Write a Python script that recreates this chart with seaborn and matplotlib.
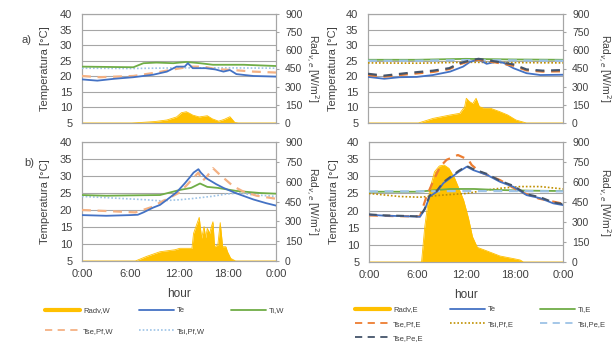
import matplotlib
matplotlib.use("Agg")
import matplotlib.pyplot as plt
from matplotlib.lines import Line2D
import seaborn as sns

sns.set_theme(style="white")
plt.rcParams['font.family'] = ['Liberation Sans', 'DejaVu Sans']

# ---------------- data ----------------
hour_ticks = [0, 6, 12, 18, 24]
hour_labels = ["0:00", "6:00", "12:00", "18:00", "0:00"]
temp_ticks = [5, 10, 15, 20, 25, 30, 35, 40]
rad_ticks = [0, 150, 300, 450, 600, 750, 900]

# a) West
aW_te_h = [0, 1.9, 4, 6.35, 8.8, 10.5, 11.7, 12.7, 13.1, 13.7, 15.3, 16.5, 17.5, 18.3, 19.1, 21.2, 24]
aW_te_v = [19.0, 18.6, 19.2, 19.7, 20.5, 21.5, 23.1, 23.1, 24.2, 22.6, 22.6, 22.2, 21.5, 22.0, 20.7, 20.1, 19.9]
aW_tse_pf_h = [0, 2.2, 6.35, 9.2, 11.3, 13.4, 15, 16.6, 18.7, 21.2, 24]
aW_tse_pf_v = [20.1, 19.7, 20.1, 21.2, 22.2, 23.1, 23.1, 22.3, 22.0, 21.5, 21.2]
aW_ti_h = [0, 6.35, 7.6, 9.2, 11.3, 12.9, 14.6, 16.2, 20, 24]
aW_ti_v = [23.1, 22.9, 24.2, 24.4, 24.2, 24.6, 24.2, 23.7, 23.7, 23.3]
aW_tsi_pf_h = [0, 6, 12, 18, 24]
aW_tsi_pf_v = [22.6, 22.5, 22.7, 22.7, 22.6]
aW_rad_h = [0, 6.15, 7.4, 9, 10.5, 11.7, 12.3, 12.9, 13.3, 13.7, 14.5, 15.5, 16.1, 16.9, 17.6, 18.3, 18.9, 19.35, 24]
aW_rad_v = [0, 0, 5, 12, 25, 50, 85, 93, 80, 65, 50, 60, 35, 15, 30, 52, 5, 0, 0]

# a) East
aE_te_h = [0, 2, 3.9, 6, 8, 10.1, 11.7, 12.6, 13.6, 14.6, 15.8, 16.7, 17.9, 19.5, 21.2, 24]
aE_te_v = [19.8, 19.2, 19.7, 19.8, 20.4, 21.5, 23.1, 24.7, 25.4, 24.0, 24.7, 24.3, 22.6, 21.0, 20.4, 20.5]
aE_tse_h = [0, 2, 4.7, 8, 10, 11.3, 12.6, 13.6, 15.8, 17.9, 19.5, 21.5, 24]
aE_tse_pe_v = [20.8, 20.2, 21.0, 21.8, 22.6, 24.2, 25.1, 25.6, 24.7, 23.8, 22.2, 21.8, 22.0]
aE_tse_pf_v = [20.4, 19.9, 20.6, 21.4, 22.3, 23.9, 24.9, 25.3, 24.4, 23.4, 21.9, 21.5, 21.6]
aE_flat_h = [0, 6, 12, 18, 24]
aE_ti_v = [25.3, 25.3, 25.6, 25.4, 25.3]
aE_tsi_pe_v = [25.0, 25.0, 25.2, 25.1, 25.0]
aE_tsi_pf_v = [24.3, 24.2, 24.5, 24.4, 24.3]
aE_rad_h = [0, 6.2, 8.0, 10.1, 11.3, 11.9, 12.1, 12.5, 12.9, 13.3, 13.7, 14.3, 15.1, 16.2, 17.2, 18.2, 19.5, 24]
aE_rad_v = [0, 0, 38, 66, 80, 135, 204, 176, 160, 204, 135, 121, 121, 94, 66, 25, 0, 0]

# b) West
bW_te_h = [0, 3, 6, 6.9, 7.6, 8.8, 9.65, 10.5, 11.7, 12.7, 13.3, 13.8, 14.4, 14.7, 15.4, 16.6, 17.5, 19.1, 21.2, 22.8, 24]
bW_te_v = [18.5, 18.3, 18.5, 18.6, 19.3, 20.7, 21.5, 23.0, 25.2, 27.8, 29.5, 31.0, 32.0, 31.0, 29.3, 27.6, 26.5, 24.9, 23.1, 22.0, 21.3]
bW_tse_pf_h = [0, 3, 6.6, 8.8, 9.65, 11.3, 12.1, 13, 13.8, 14.4, 14.9, 15.5, 16.2, 17, 18.7, 19.9, 21.6, 24]
bW_tse_pf_v = [20.0, 19.7, 19.3, 21.0, 22.2, 24.2, 25.2, 27.4, 29.5, 31.0, 28.5, 30.0, 32.3, 30.5, 27.0, 25.5, 24.2, 23.3]
bW_ti_h = [0, 3, 6, 9.65, 12.1, 13.5, 14.6, 15.5, 16.8, 19.1, 22, 24]
bW_ti_v = [24.4, 24.2, 24.3, 24.4, 25.9, 26.5, 27.8, 26.8, 26.5, 25.6, 25.0, 24.8]
bW_tsi_pf_h = [0, 4, 8, 9.65, 12, 13.8, 16, 17.9, 19.5, 21, 24]
bW_tsi_pf_v = [24.0, 23.5, 23.0, 22.7, 23.0, 23.4, 24.0, 24.7, 25.0, 24.5, 24.0]
bW_rad_h = [0, 6.6, 8, 9.65, 11.5, 12.1, 13.6, 13.8, 14.5, 14.8, 15.1, 15.3, 15.5, 15.8, 16.0, 16.2, 16.4, 16.8, 17.1,
            17.4, 17.8, 18.0, 18.4, 19.0, 24]
bW_rad_v = [0, 0, 35, 70, 85, 96, 96, 209, 330, 172, 260, 175, 247, 209, 260, 297, 108, 120, 290,
            108, 108, 70, 20, 0, 0]

# b) East
bE_te_h = [0, 2, 3.8, 6.3, 6.9, 7.5, 8.4, 9.2, 10, 11.1, 12.1, 12.9, 14.6, 16.2, 17.9, 19.5, 21.2, 22.8, 24]
bE_te_v = [18.8, 18.5, 18.4, 18.2, 20.3, 24.1, 25.5, 28.0, 29.4, 31.3, 32.8, 31.8, 30.4, 28.4, 26.9, 24.5, 23.6, 22.1, 21.6]
bE_tse_pe_v = [18.9, 18.6, 18.5, 18.3, 20.6, 24.4, 25.8, 28.3, 29.7, 31.6, 33.0, 32.1, 30.7, 28.7, 27.2, 24.8, 23.9, 22.4, 21.9]
bE_tse_pf_h = [0, 3, 6.3, 7.1, 8, 8.8, 9.6, 11, 12.3, 12.7, 13.7, 16.2, 18.7, 21, 24]
bE_tse_pf_v = [18.6, 18.4, 18.3, 24.0, 28.9, 32.8, 34.8, 36.2, 34.8, 33.3, 31.3, 28.9, 25.5, 23.5, 22.0]
bE_ti_h = [0, 6, 8, 10, 13, 16, 20, 24]
bE_ti_v = [25.5, 25.5, 25.9, 26.3, 26.3, 26.0, 25.8, 25.7]
bE_tsi_pe_h = [0, 6, 12, 18, 24]
bE_tsi_pe_v = [25.6, 25.6, 25.7, 25.7, 25.6]
bE_tsi_pf_h = [0, 3.8, 6.3, 9, 12.1, 14, 16.2, 18.7, 21.2, 24]
bE_tsi_pf_v = [25.0, 24.1, 23.9, 24.5, 25.0, 25.8, 26.5, 27.0, 27.0, 26.3]
bE_rad_h = [0, 6.5, 6.9, 7.5, 8.1, 8.7, 9.3, 9.9, 10.6, 11.2, 11.7, 12.3, 12.8, 13.4, 14.5, 16.2, 17.9, 18.7, 19.1, 24]
bE_rad_v = [0, 0, 265, 540, 677, 720, 727, 702, 628, 540, 465, 330, 190, 110, 85, 45, 25, 15, 0, 0]

# ---------------- styles ----------------
C_RAD = '#FFC000'
C_TE = '#4472C4'
C_TI = '#70AD47'
C_TSE_PF_W = '#F4B183'
C_TSE_PF_E = '#ED7D31'
C_TSI_PF_W = '#9DC3E6'
C_TSI_PF_E = '#BF9000'
C_TSI_PE_E = '#9DC3E6'
C_TSE_PE_E = '#44546A'
GRID = '#A6A6A6'
TXT = '#404040'

DASH = (0, (4, 3))
DOT = (0, (1, 1.2))

W, H = 613, 343
fig = plt.figure(figsize=(W / 100, H / 100), dpi=100)
fig.patch.set_facecolor('white')


def rect(l, r, t, b):
    return [l / W, 1 - b / H, (r - l) / W, (b - t) / H]


def panel(rc, lines, rad_h, rad_v, show_x, ylab_x, rlab_x, rad_label):
    ax = fig.add_axes(rc)
    ax.set_xlim(0, 24)
    ax.set_ylim(5, 40)
    ax.set_yticks(temp_ticks)
    ax.yaxis.grid(True, color=GRID, lw=0.8)
    ax.xaxis.grid(False)
    ax.set_axisbelow(True)
    ax.set_xticks(hour_ticks)
    ax.set_xticklabels(hour_labels if show_x else [""] * 5)
    ax.tick_params(axis='x', length=0, pad=6, labelsize=8, labelcolor=TXT)
    ax.tick_params(axis='y', length=0, pad=7, labelsize=8, labelcolor=TXT)
    for s in ax.spines.values():
        s.set_color(GRID)
        s.set_linewidth(0.8)
    ax.set_ylabel("Temperatura [°C]", fontsize=8, color=TXT)
    ax.yaxis.set_label_coords(ylab_x, 0.5)

    axr = ax.twinx()
    axr.set_ylim(0, 900)
    axr.set_yticks(rad_ticks)
    axr.tick_params(axis='y', length=2.5, pad=4, labelsize=7.5, labelcolor=TXT, color=GRID, width=0.8)
    for s in axr.spines.values():
        s.set_color(GRID)
        s.set_linewidth(0.8)
    sns.lineplot(x=rad_h, y=rad_v, ax=axr, color=C_RAD, lw=0.6, errorbar=None)
    axr.fill_between(rad_h, rad_v, 0, color=C_RAD, lw=0)
    axr.set_ylabel(rad_label, fontsize=7.5, color=TXT, rotation=270, va='center')
    axr.yaxis.set_label_coords(rlab_x, 0.5)
    axr.set_xlabel("")

    axl = fig.add_axes(rc, sharex=ax, sharey=ax)
    axl.set_axis_off()
    for (hh, vv, col, ls, lw) in lines:
        sns.lineplot(x=hh, y=vv, ax=axl, color=col, linestyle=ls, lw=lw, errorbar=None)
    ax.set_xlim(0, 24)
    ax.set_ylim(5, 40)
    return ax


RAD_LAB = "Rad$_{v,e}$ [W/m$^2$]"

# a) West
panel(rect(82, 276, 14, 123),
      [(aW_tsi_pf_h, aW_tsi_pf_v, C_TSI_PF_W, DOT, 1.2),
       (aW_ti_h, aW_ti_v, C_TI, '-', 1.3),
       (aW_tse_pf_h, aW_tse_pf_v, C_TSE_PF_W, DASH, 1.6),
       (aW_te_h, aW_te_v, C_TE, '-', 1.3)],
      aW_rad_h, aW_rad_v, False, -0.165, 1.19, RAD_LAB)

# a) East
panel(rect(368, 563, 14, 123),
      [(aE_flat_h, aE_tsi_pf_v, C_TSI_PF_E, DOT, 1.2),
       (aE_flat_h, aE_ti_v, C_TI, '-', 1.3),
       (aE_flat_h, aE_tsi_pe_v, C_TSI_PE_E, DASH, 1.6),
       (aE_te_h, aE_te_v, C_TE, '-', 1.3),
       (aE_tse_h, aE_tse_pf_v, C_TSE_PF_E, DASH, 1.6),
       (aE_tse_h, aE_tse_pe_v, C_TSE_PE_E, DASH, 1.6)],
      aE_rad_h, aE_rad_v, False, -0.155, 1.215, RAD_LAB)

# b) West
axbW = panel(rect(82, 276, 142, 261),
             [(bW_tsi_pf_h, bW_tsi_pf_v, C_TSI_PF_W, DOT, 1.2),
              (bW_ti_h, bW_ti_v, C_TI, '-', 1.3),
              (bW_tse_pf_h, bW_tse_pf_v, C_TSE_PF_W, DASH, 1.6),
              (bW_te_h, bW_te_v, C_TE, '-', 1.3)],
             bW_rad_h, bW_rad_v, True, -0.165, 1.19, RAD_LAB)
axbW.set_xlabel("hour", fontsize=8.5, color=TXT, labelpad=6)

# b) East
axbE = panel(rect(369, 563, 142, 262),
             [(bE_tsi_pf_h, bE_tsi_pf_v, C_TSI_PF_E, DOT, 1.2),
              (bE_ti_h, bE_ti_v, C_TI, '-', 1.3),
              (bE_tsi_pe_h, bE_tsi_pe_v, C_TSI_PE_E, DASH, 1.6),
              (bE_tse_pf_h, bE_tse_pf_v, C_TSE_PF_E, DASH, 1.6),
              (bE_te_h, bE_te_v, C_TE, '-', 1.3),
              (bE_te_h, bE_tse_pe_v, C_TSE_PE_E, DASH, 1.4)],
             bE_rad_h, bE_rad_v, True, -0.155, 1.215, RAD_LAB)
axbE.set_xlabel("hour", fontsize=8.5, color=TXT, labelpad=6)

fig.text(22 / W, 1 - 40 / H, "a)", fontsize=8, color=TXT, va='center')
fig.text(24 / W, 1 - 163 / H, "b)", fontsize=8, color=TXT, va='center')

# legends
def h(col, ls, lw):
    return Line2D([], [], color=col, linestyle=ls, lw=lw)

lw_handles = [h(C_RAD, '-', 3), h(C_TSE_PF_W, DASH, 1.3), h(C_TE, '-', 1.3), h(C_TSI_PF_W, DOT, 1.2), h(C_TI, '-', 1.3)]
lw_labels = ["Radv,W", "Tse,Pf,W", "Te", "Tsi,Pf,W", "Ti,W"]
fig.legend(lw_handles, lw_labels, loc='upper left', bbox_to_anchor=(45 / W, 1 - 307 / H), ncol=3,
           frameon=False, fontsize=5.5, handlelength=4.6, handletextpad=0.4, columnspacing=3.3,
           labelspacing=1.7, borderpad=0, borderaxespad=0, labelcolor=TXT)

le_handles = [h(C_RAD, '-', 3), h(C_TSE_PF_E, DASH, 1.3), h(C_TSE_PE_E, DASH, 1.3),
              h(C_TE, '-', 1.3), h(C_TSI_PF_E, DOT, 1.2), h(C_TI, '-', 1.3), h(C_TSI_PE_E, DASH, 1.3)]
le_labels = ["Radv,E", "Tse,Pf,E", "Tse,Pe,E", "Te", "Tsi,Pf,E", "Ti,E", "Tsi,Pe,E"]
fig.legend(le_handles, le_labels, loc='upper left', bbox_to_anchor=(355 / W, 1 - 306 / H), ncol=3,
           frameon=False, fontsize=5.5, handlelength=4.6, handletextpad=0.4, columnspacing=3.4,
           labelspacing=0.9, borderpad=0, borderaxespad=0, labelcolor=TXT)

fig.savefig("out.png", dpi=100, facecolor='white')
